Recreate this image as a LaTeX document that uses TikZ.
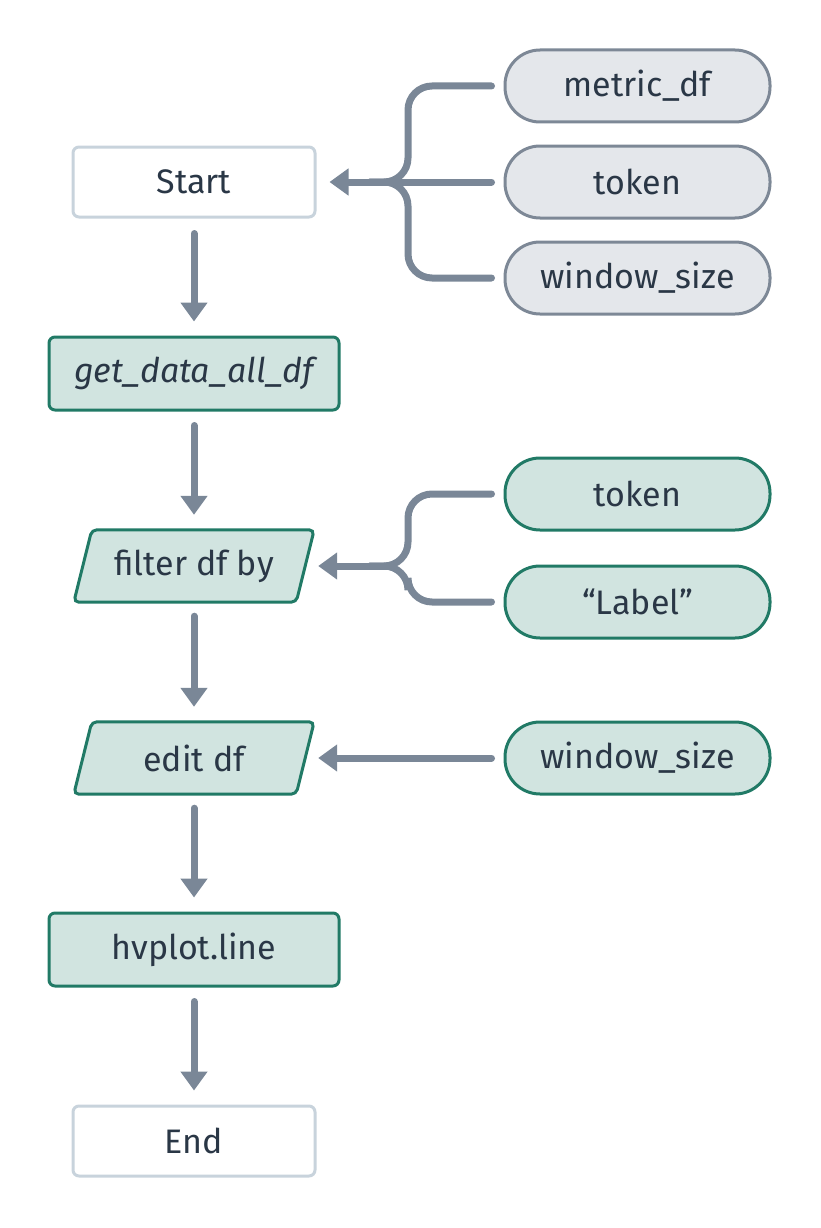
\documentclass[tikz,border=0pt]{standalone}
\usepackage{fontspec}
\setmainfont{Fira Sans}
\usetikzlibrary{arrows.meta,calc}
\definecolor{txt}{HTML}{2A3746}
\definecolor{lightedge}{HTML}{C8D3DC}
\definecolor{grayfill}{HTML}{E4E7EB}
\definecolor{grayedge}{HTML}{7D8896}
\definecolor{greenfill}{HTML}{D1E4E0}
\definecolor{greenedge}{HTML}{217A66}
\definecolor{arrowc}{HTML}{7A8797}
\begin{document}
\begin{tikzpicture}[x=1pt,y=-1pt,
  every node/.style={font=\fontsize{34}{40}\selectfont, text=txt, inner sep=0pt},
  termbox/.style={draw=lightedge, fill=white, line width=3pt, rounded corners=6pt, minimum width=242pt, minimum height=70pt},
  procbox/.style={draw=greenedge, fill=greenfill, line width=3pt, rounded corners=6pt, minimum width=290pt, minimum height=73pt},
  graypill/.style={draw=grayedge, fill=grayfill, line width=3pt, rounded corners=35pt, minimum width=265pt, minimum height=72pt},
  greenpill/.style={draw=greenedge, fill=greenfill, line width=3pt, rounded corners=35pt, minimum width=265pt, minimum height=72pt},
  pgbody/.style={minimum width=222pt, minimum height=72pt},
  pgshape/.style={draw=greenedge, fill=greenfill, line width=3pt, rounded corners=5pt},
  conn/.style={draw=arrowc, line width=7pt, line cap=round, rounded corners=24pt},
  arr/.style={draw=arrowc, line width=7pt, line cap=round, -{Triangle[width=26pt,length=19pt]}},
]
\useasboundingbox (0,0) rectangle (820,1228);

% main column
\node[termbox] (start) at (194,182) {Start};
\node[procbox] (gd) at (194,373.5) {\itshape get\_data\_all\_df};
\node[pgbody] (fb) at (194,566) {};
\draw[pgshape] ([xshift=9pt]fb.north west) -- ([xshift=9pt]fb.north east) -- ([xshift=-9pt]fb.south east) -- ([xshift=-9pt]fb.south west) -- cycle;
\node at (fb.center) {filter df by};
\node[pgbody] (ed) at (194,758) {};
\draw[pgshape] ([xshift=9pt]ed.north west) -- ([xshift=9pt]ed.north east) -- ([xshift=-9pt]ed.south east) -- ([xshift=-9pt]ed.south west) -- cycle;
\node at (ed.center) {edit df};
\node[procbox] (hv) at (194,949.5) {hvplot.line};
\node[termbox] (end) at (194,1141) {End};

% inputs
\node[graypill] (m1) at (637.5,86) {metric\_df};
\node[graypill] (m2) at (637.5,182) {token};
\node[graypill] (m3) at (637.5,278) {window\_size};
\node[greenpill] (f1) at (637.5,494) {token};
\node[greenpill] (f2) at (637.5,602) {“Label”};
\node[greenpill] (e1) at (637.5,758) {window\_size};

% junctions
\coordinate (j1) at (408,182);
\coordinate (j1l) at (370,182);
\coordinate (j2) at (408,566);
\coordinate (j2l) at (370,566);

% vertical arrows
\draw[arr] ([yshift=-15pt]start.south) -- ([yshift=14pt]gd.north);
\draw[arr] ([yshift=-14pt]gd.south) -- ([yshift=15pt]fb.north);
\draw[arr] ([yshift=-14pt]fb.south) -- ([yshift=15pt]ed.north);
\draw[arr] ([yshift=-14pt]ed.south) -- ([yshift=14pt]hv.north);
\draw[arr] ([yshift=-14pt]hv.south) -- ([yshift=14pt]end.north);

% start inputs
\draw[conn] ([xshift=-12pt]m1.west) -| (j1) -- (j1l);
\draw[conn] ([xshift=-12pt]m3.west) -| (j1) -- (j1l);
\draw[arr] ([xshift=-12pt]m2.west) -- ([xshift=13pt]start.east);

% filter inputs
\draw[conn] ([xshift=-12pt]f1.west) -| (j2) -- (j2l);
\draw[conn] ([xshift=-12pt]f2.west) -| (j2) -- (j2l);
\draw[arr] ([xshift=-18pt]j2) -- ([xshift=13pt]fb.east);

% edit input
\draw[arr] ([xshift=-12pt]e1.west) -- ([xshift=13pt]ed.east);
\end{tikzpicture}
\end{document}
